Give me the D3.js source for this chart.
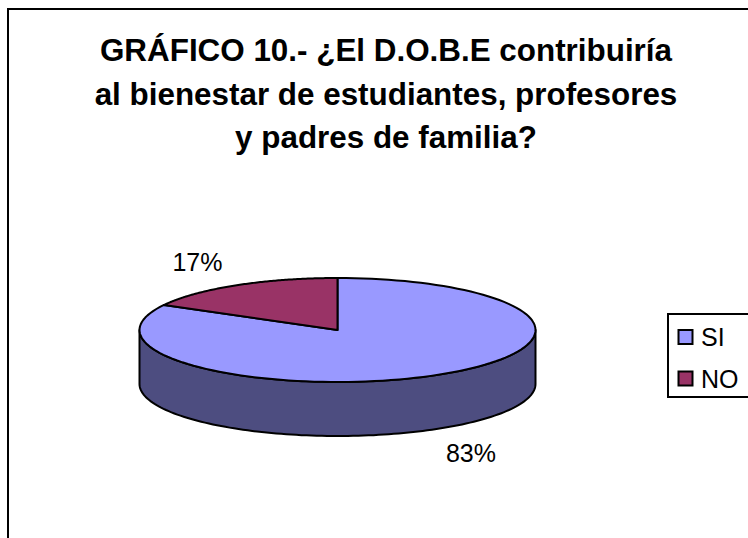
<!DOCTYPE html>
<html><head><meta charset="utf-8">
<script src="https://cdn.jsdelivr.net/npm/d3@7/dist/d3.min.js"></script>
<style>html,body{margin:0;padding:0;background:#fff}svg{display:block}text{font-family:"Liberation Sans",Arial,sans-serif;fill:#000}</style>
</head><body><svg id="c" width="748" height="538"></svg>
<script>
const categories = ["SI","NO"];
const values = [83,17];
const labels = ["83%","17%"];
const titleLines = ["GRÁFICO 10.- ¿El D.O.B.E contribuiría","al bienestar de estudiantes, profesores","y padres de familia?"];
const colors = ["#9999ff","#993366"];
const sideColor = "#4d4d80";

const svg = d3.select("#c");
svg.append("rect").attr("x",8).attr("y",9).attr("width",800).attr("height",600).attr("fill","#fff").attr("stroke","#000").attr("stroke-width",2);

const titleY = d3.scalePoint().domain(titleLines).range([61,148]);
svg.selectAll(".t").data(titleLines).join("text").attr("class","t")
  .attr("x",386).attr("y",d=>titleY(d)).attr("text-anchor","middle")
  .attr("font-size",31.4).attr("font-weight","bold").text(d=>d);

const cx=337.5, cy=330, rx=198, ry=52, depth=54;
const sx=d3.scaleLinear().domain([-1,1]).range([cx-rx,cx+rx]);
const sy=d3.scaleLinear().domain([-1,1]).range([cy-ry,cy+ry]);
const line=d3.line().x(d=>sx(d[0])).y(d=>sy(d[1]));
const pie=d3.pie().sort(null).value(d=>d);
const arcs=pie(values);
const pt=a=>[Math.sin(a),-Math.cos(a)];
const sample=(a0,a1)=>d3.range(0,121).map(i=>pt(a0+(a1-a0)*i/120));

// wall: front half of the rim, extruded downward
const front=sample(Math.PI/2,Math.PI*1.5).map(p=>[sx(p[0]),sy(p[1])]);
const wall=[...front,...front.slice().reverse().map(p=>[p[0],p[1]+depth])];
svg.append("path").attr("d",d3.line()(wall)+"Z").attr("fill",sideColor)
  .attr("stroke","#000").attr("stroke-width",2).attr("stroke-linejoin","round");

svg.selectAll(".s").data(arcs).join("path").attr("class","s")
  .attr("d",d=>line([[0,0],...sample(d.startAngle,d.endAngle)])+"Z")
  .attr("fill",(d,i)=>colors[i]).attr("stroke","#000").attr("stroke-width",2).attr("stroke-linejoin","round");

const labelPos=[[471,462],[197.5,271]];
svg.selectAll(".l").data(labels).join("text").attr("class","l")
  .attr("x",(d,i)=>labelPos[i][0]).attr("y",(d,i)=>labelPos[i][1]).attr("text-anchor","middle")
  .attr("font-size",25).text(d=>d);

svg.append("rect").attr("x",668).attr("y",314).attr("width",120).attr("height",83).attr("fill","#fff").attr("stroke","#000").attr("stroke-width",2);
const ly=d3.scalePoint().domain(categories).range([337,378.5]);
const g=svg.selectAll(".k").data(categories).join("g").attr("class","k").attr("transform",d=>`translate(0,${ly(d)})`);
g.append("rect").attr("x",678.5).attr("y",-7).attr("width",14).attr("height",14).attr("fill",(d,i)=>colors[i]).attr("stroke","#000").attr("stroke-width",2);
g.append("text").attr("x",701).attr("y",9).attr("font-size",25).text(d=>d);
</script></body></html>
